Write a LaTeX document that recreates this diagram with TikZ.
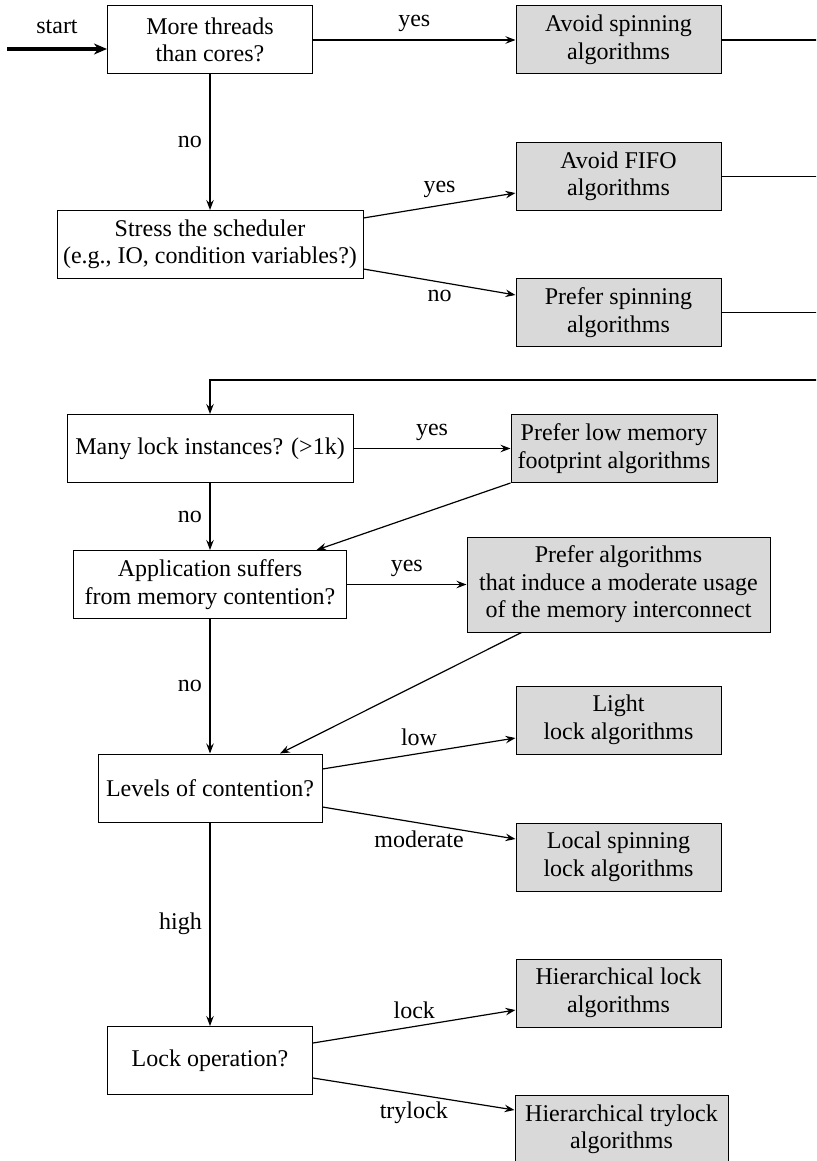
\documentclass[tikz,border=0pt]{standalone}
\usepackage{fontspec}
\setmainfont{Liberation Serif}
\usetikzlibrary{arrows.meta}
\begin{document}
\begin{tikzpicture}[x=1pt,y=-1pt,
  txt/.style={font=\fontsize{24}{27.5}\selectfont},
  box/.style={txt, draw=black, line width=1pt, fill=white, align=center,
    minimum width=205pt, minimum height=68pt, inner xsep=6pt},
  res/.style={box, fill=gray!30},
  conn/.style={line width=1.2pt, -{Stealth[length=10pt,width=7.5pt,inset=3.5pt]}},
  plain/.style={line width=1.2pt},
  lbl/.style={txt, inner sep=7.5pt}
]
\useasboundingbox (0,0) rectangle (816,1161);
\clip (0,0) rectangle (816,1161);

% nodes
\node[box] (q1) at (210,40) {More threads\\than cores?};
\node[res] (a1) at (618.5,40) {Avoid spinning\\algorithms};
\node[box, minimum width=306pt] (q2) at (210,244.5) {Stress the scheduler\\(e.g., IO, condition variables?)};
\node[res] (a2) at (618.5,176.5) {Avoid FIFO\\algorithms};
\node[res] (a3) at (618.5,312.5) {Prefer spinning\\algorithms};
\node[box, minimum width=286pt] (q3) at (210,448.5) {Many lock instances? (>1k)};
\node[res, minimum width=206pt] (a4) at (614,448.5) {Prefer low memory\\footprint algorithms};
\node[box, minimum width=273pt] (q4) at (210,584.5) {Application suffers\\from memory contention?};
\node[res, minimum width=303pt, minimum height=95pt] (a5) at (618.5,584.5) {Prefer algorithms\\that induce a moderate usage\\of the memory interconnect};
\node[box, minimum width=224pt] (q5) at (210,788) {Levels of contention?};
\node[res] (a6) at (618.5,720) {Light\\lock algorithms};
\node[res] (a7) at (618.5,857) {Local spinning\\lock algorithms};
\node[box] (q6) at (210,1060.5) {Lock operation?};
\node[res] (a8) at (618.5,993) {Hierarchical lock\\algorithms};
\node[res, minimum width=213pt] (a9) at (621.5,1129) {Hierarchical trylock\\algorithms};

\coordinate (s) at (7,49);
\coordinate (rt) at (840,380);
\coordinate (lt) at (210,380);

% connectors
\draw[line width=3.2pt, -{Stealth[length=13pt,width=11pt,inset=4pt]}] (s) -- node[lbl, above, inner sep=14pt]{start} ([yshift=-9pt]q1.west);
\draw[conn] (q1.east) -- node[lbl, above]{yes} (a1.west);
\draw[conn] (q1.south) -- node[lbl, left]{no} (q2.north);
\draw[conn] ([yshift=26.5pt]q2.east) -- node[lbl, above]{yes} ([yshift=-16.5pt]a2.west);
\draw[conn] ([yshift=-24.5pt]q2.east) -- node[lbl, below]{no} ([yshift=17.5pt]a3.west);
\draw[conn] (a1.east) -| (rt) -- (lt) -- (q3.north);
\draw[plain] (a2.east) -| (rt);
\draw[plain] (a3.east) -| (rt);
\draw[conn] (q3.east) -- node[lbl, above]{yes} (a4.west);
\draw[conn] (q3.south) -- node[lbl, left]{no} (q4.north);
\draw[conn] (a4.south west) -- ([xshift=106.5pt]q4.north);
\draw[conn] (q4.east) -- node[lbl, above]{yes} (a5.west);
\draw[conn] (q4.south) -- node[lbl, left]{no} (q5.north);
\draw[conn] ([xshift=55pt]a5.south west) -- ([xshift=70pt]q5.north);
\draw[conn] ([yshift=19pt]q5.east) -- node[lbl, above]{low} ([yshift=-18pt]a6.west);
\draw[conn] ([yshift=-19pt]q5.east) -- node[lbl, below]{moderate} ([yshift=18pt]a7.west);
\draw[conn] (q5.south) -- node[lbl, left]{high} (q6.north);
\draw[conn] ([yshift=17.5pt]q6.east) -- node[lbl, above]{lock} ([yshift=-17pt]a8.west);
\draw[conn] ([yshift=-17.5pt]q6.east) -- node[lbl, below]{trylock} ([yshift=19pt]a9.west);
\end{tikzpicture}
\end{document}
